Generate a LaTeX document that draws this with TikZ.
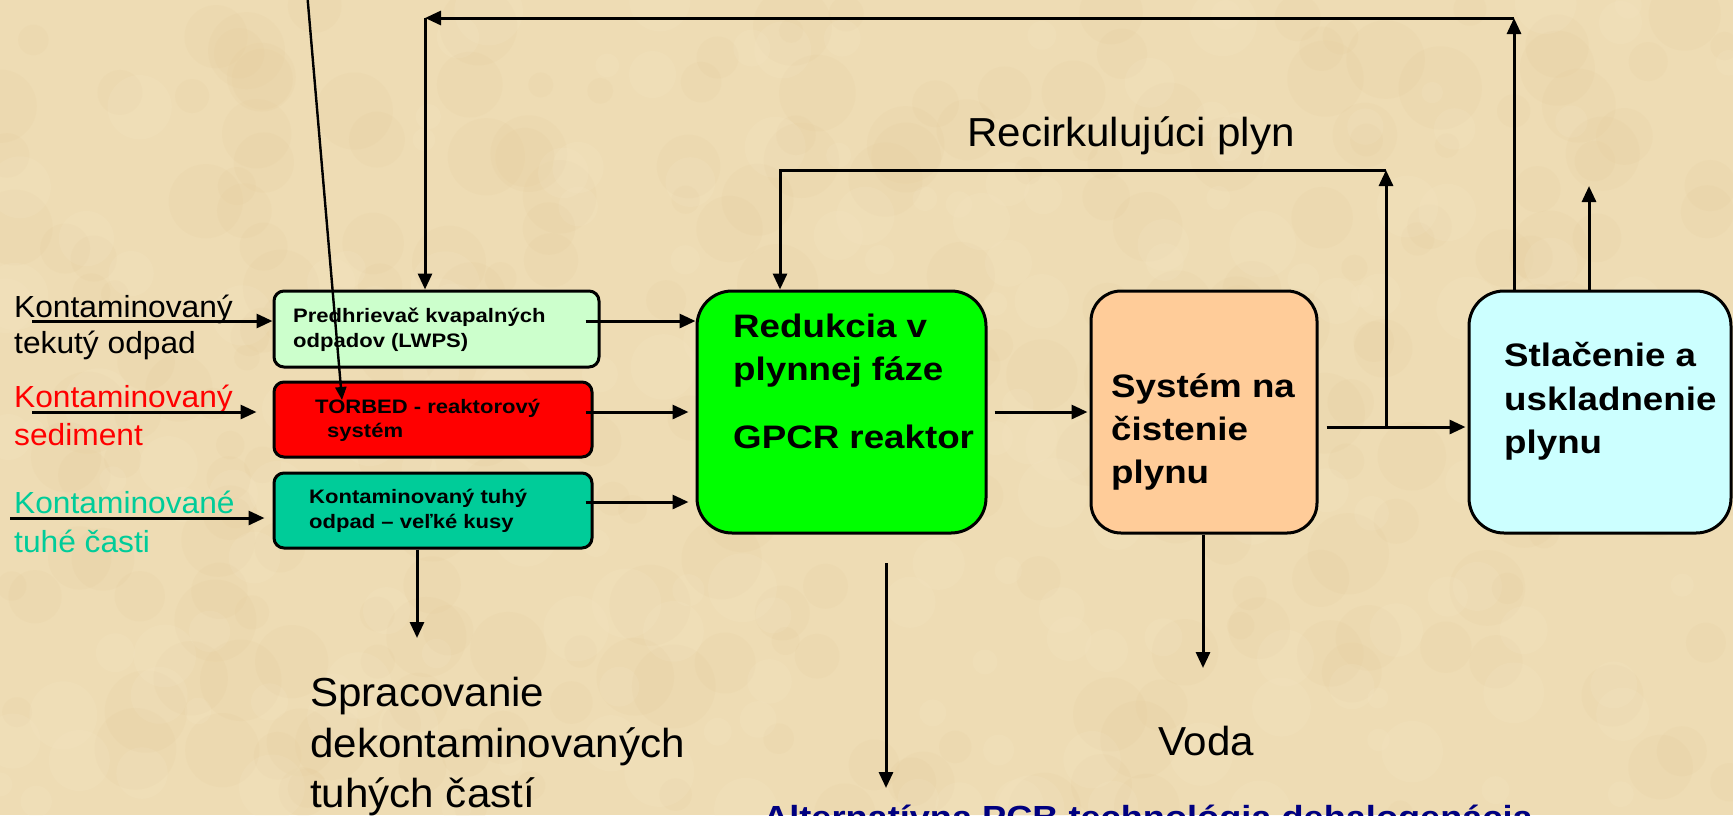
\documentclass[tikz,border=0pt]{standalone}
\usepackage{fontspec}
\setmainfont{Liberation Sans}
\newfontfamily\rgfam{Liberation Sans}[FakeStretch=1.04]
\newfontfamily\bdfam{Liberation Sans}[FakeStretch=1.13]
\usetikzlibrary{arrows.meta,calc}
\definecolor{bgc}{HTML}{EEDCB4}
\definecolor{spotd}{HTML}{E2C58F}
\definecolor{spotl}{HTML}{F6EACB}
\definecolor{lwpsc}{HTML}{CCFFCC}
\definecolor{solidc}{HTML}{00CC99}
\definecolor{gpcrc}{HTML}{00FF00}
\definecolor{peachc}{HTML}{FFCC99}
\definecolor{cyanc}{HTML}{CCFFFF}
\definecolor{navyc}{HTML}{000080}
\tikzset{
  box/.style={draw=black, line width=3pt, rounded corners=#1, inner sep=0pt},
  lbl/.style={anchor=base west, inner sep=0pt, font=\rgfam\fontsize{30.5}{36}\selectfont},
  large/.style={anchor=base west, inner sep=0pt, font=\rgfam\fontsize{40.5}{48}\selectfont},
  smalltxt/.style={anchor=base west, inner sep=0pt, font=\bdfam\bfseries\fontsize{19.5}{24}\selectfont},
  bigtxt/.style={anchor=base west, inner sep=0pt, font=\bdfam\bfseries\fontsize{32.5}{40}\selectfont},
  arr/.style={line width=3pt, -{Triangle[length=16pt,width=14pt]}},
}
\begin{document}
\begin{tikzpicture}[x=1pt,y=-1pt]
\useasboundingbox (0,0) rectangle (1733,815);
\begin{scope}
\clip (0,0) rectangle (1733,815);
\fill[bgc] (0,0) rectangle (1733,815);
\pgfmathsetseed{7}
\foreach \i in {1,...,260}{
  \pgfmathsetmacro{\px}{rnd*1733}
  \pgfmathsetmacro{\py}{rnd*815}
  \pgfmathsetmacro{\pr}{12+rnd*30}
  \fill[spotd, opacity=0.10] (\px,\py) circle[radius=\pr];
}
\foreach \i in {1,...,200}{
  \pgfmathsetmacro{\px}{rnd*1733}
  \pgfmathsetmacro{\py}{rnd*815}
  \pgfmathsetmacro{\pr}{10+rnd*25}
  \fill[spotl, opacity=0.15] (\px,\py) circle[radius=\pr];
}
\end{scope}

% boxes
\node[box=10pt, fill=lwpsc, minimum width=325pt, minimum height=76pt] (lwps) at (436.5,329) {};
\node[box=10pt, fill=red, minimum width=318pt, minimum height=75pt] (torbed) at (433,419.5) {};
\node[box=10pt, fill=solidc, minimum width=318pt, minimum height=75pt] (solid) at (433,510.5) {};
\node[box=35pt, fill=gpcrc, minimum width=289pt, minimum height=242pt] (gpcr) at (841.5,412) {};
\node[box=30pt, fill=peachc, minimum width=226pt, minimum height=242pt] (clean) at (1204,412) {};
\node[box=35pt, fill=cyanc, minimum width=262pt, minimum height=242pt] (store) at (1600,412) {};

% box texts
\node[smalltxt] (ta1) at (293,322) {Predhrievač kvapalných};
\node[smalltxt] (ta2) at (293,347) {odpadov (LWPS)};
\node[smalltxt] (tb1) at (315,413) {TORBED - reaktorový};
\node[smalltxt] (tb2) at (327,437) {systém};
\node[smalltxt] (tc1) at (309,503) {Kontaminovaný tuhý};
\node[smalltxt] (tc2) at (309,528) {odpad – veľké kusy};
\node[bigtxt] (tg1) at (733,337) {Redukcia v};
\node[bigtxt] (tg2) at (733,380) {plynnej fáze};
\node[bigtxt] (tg3) at (733,448) {GPCR reaktor};
\node[bigtxt] (ts1) at (1111,397) {Systém na};
\node[bigtxt] (ts2) at (1111,440) {čistenie};
\node[bigtxt] (ts3) at (1111,483) {plynu};
\node[bigtxt] (tu1) at (1504,366) {Stlačenie a};
\node[bigtxt] (tu2) at (1504,410) {uskladnenie};
\node[bigtxt] (tu3) at (1504,453) {plynu};

% left labels
\node[lbl] (l1a) at (14,317) {Kontaminovaný};
\node[lbl] (l1b) at (14,353) {tekutý odpad};
\node[lbl, text=red] (l2a) at (14,407) {Kontaminovaný};
\node[lbl, text=red] (l2b) at (14,445) {sediment};
\node[lbl, text=solidc] (l3a) at (14,513) {Kontaminované};
\node[lbl, text=solidc] (l3b) at (14,552) {tuhé časti};

% other labels
\node[large] (rec) at (967,146) {Recirkulujúci plyn};
\node[large] (voda) at (1158,755) {Voda};
\node[large] (sp1) at (310,706) {Spracovanie};
\node[large] (sp2) at (310,757) {dekontaminovaných};
\node[large] (sp3) at (310,807) {tuhých častí};
\node[anchor=base west, inner sep=0pt, text=navyc, font=\bdfam\bfseries\fontsize{32}{38}\selectfont] (alt) at (763,828) {Alternatívna PCB technológia dehalogenácia};

% inputs
\coordinate (in1) at (32,321);
\draw[arr] (in1) -- (in1 -| lwps.west);
\coordinate (in2) at (32,412);
\draw[arr, shorten >=16pt] (in2) -- (in2 -| torbed.west);
\coordinate (in3) at (10,518);
\draw[arr, shorten >=8pt] (in3) -- (in3 -| solid.west);

% boxes to GPCR
\coordinate (o1) at ($(lwps.east)+(-15,-8)$);
\draw[arr] (o1) -- (o1 -| gpcr.west);
\coordinate (o2) at ($(torbed.east)+(-8,-7.5)$);
\draw[arr, shorten >=7pt] (o2) -- (o2 -| gpcr.west);
\coordinate (o3) at ($(solid.east)+(-8,-8.5)$);
\draw[arr, shorten >=7pt] (o3) -- (o3 -| gpcr.west);

% main flow
\draw[arr, shorten <=7pt, shorten >=2pt] (gpcr.east) -- (clean.west);
\coordinate (s1) at ($(clean.east)+(8,15)$);
\draw[arr, shorten >=2pt] (s1) -- (s1 -| store.west);

% recirculation
\coordinate (j1) at (1386,427);
\coordinate (r1) at (1386,170);
\coordinate (r2) at (780,170);
\draw[arr] (j1) -- (r1);
\draw[arr] (r1) -- (r2) -- (r2 |- gpcr.north);

% top loop
\coordinate (u1) at (1514,18);
\coordinate (u2) at (425,18);
\draw[arr] (store.north -| u1) -- (u1);
\draw[arr] (u1) -- (u2);
\draw[arr] (u2) -- (u2 |- lwps.north);
\coordinate (u3) at (1589,186);
\draw[arr] (store.north -| u3) -- (u3);

% outputs
\coordinate (v1) at (1203,668);
\draw[arr] (clean.south -| v1) -- (v1);
\coordinate (d1) at (417,638);
\draw[arr] (solid.south -| d1) -- (d1);
\coordinate (g1) at (886,563);
\coordinate (g2) at (886,788);
\draw[arr] (g1) -- (g2);

% slanted line
\coordinate (sl1) at (306,-20);
\coordinate (sl2) at (342,400);
\draw[line width=2.4pt, -{Triangle[length=13pt,width=11pt]}] (sl1) -- (sl2);
\end{tikzpicture}
\end{document}
